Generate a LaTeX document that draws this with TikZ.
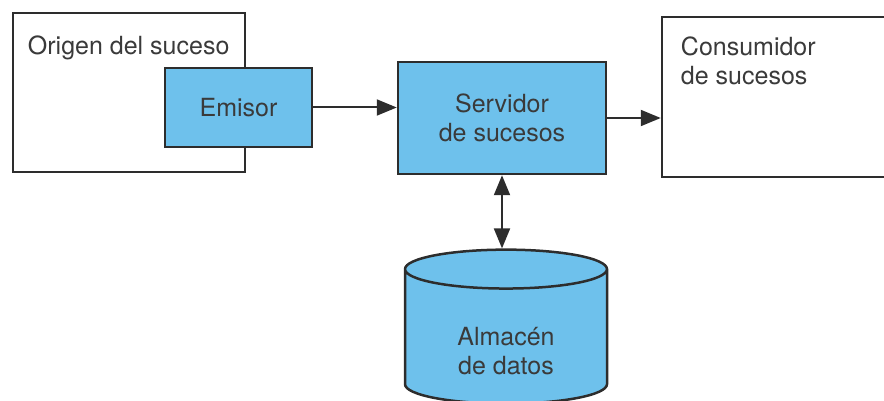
\documentclass[tikz,border=0pt]{standalone}
\usepackage{fontspec}
\setmainfont{TeX Gyre Heros}
\usetikzlibrary{shapes.geometric,arrows.meta}
\definecolor{boxblue}{HTML}{6EC1EC}
\definecolor{edge}{HTML}{2D2D2D}
\definecolor{ink}{HTML}{3A3A3A}

\begin{document}
\begin{tikzpicture}[x=1pt,y=1pt]
\tikzstyle{every node}+=[inner sep=0pt,font=\fontsize{25}{29}\selectfont,text=ink]
\tikzstyle{whitebox}=[rectangle,draw=edge,line width=2.5pt,fill=white]
\tikzstyle{bluebox}=[rectangle,draw=edge,line width=2.5pt,fill=boxblue,align=center]
\tikzstyle{boxtext}=[anchor=north west,align=left,inner sep=0pt]
\tikzstyle{link}=[draw=edge,line width=2pt,-{Triangle[length=20pt,width=16pt]}]
\useasboundingbox (0,0) rectangle (884,-401);
\node [whitebox,minimum width=232pt,minimum height=159pt,
  label={[boxtext,xshift=16pt,yshift=-24pt]north west:Origen del suceso}] (origin) at (129,-92.5) {};
\node [bluebox,minimum width=147pt,minimum height=79pt] (emisor) at (238.5,-107.5) {Emisor};
\node [bluebox,minimum width=208pt,minimum height=112pt] (server) at (502,-118) {Servidor\\de sucesos};
\node [whitebox,minimum width=242pt,minimum height=160pt,
  label={[boxtext,xshift=20pt,yshift=-21pt]north west:Consumidor\\de sucesos}] (consumer) at (783,-97) {};
\node [cylinder,shape border rotate=90,draw=edge,line width=2.5pt,cylinder uses custom fill,
  cylinder body fill=boxblue,cylinder end fill=boxblue,aspect=0.4,align=center,
  minimum width=202pt,minimum height=154pt] (store) at (506,-337) {\rule{0pt}{46pt}Almac\'en\\de datos};
\draw [link] (emisor.east) -- (emisor.east -| server.west);
\draw [link] (server.east) -- (server.east -| consumer.west);
\draw [link,{Triangle[length=20pt,width=16pt]}-{Triangle[length=20pt,width=16pt]}] (server.south) -- (server.south |- store.north);
\end{tikzpicture}
\end{document}
